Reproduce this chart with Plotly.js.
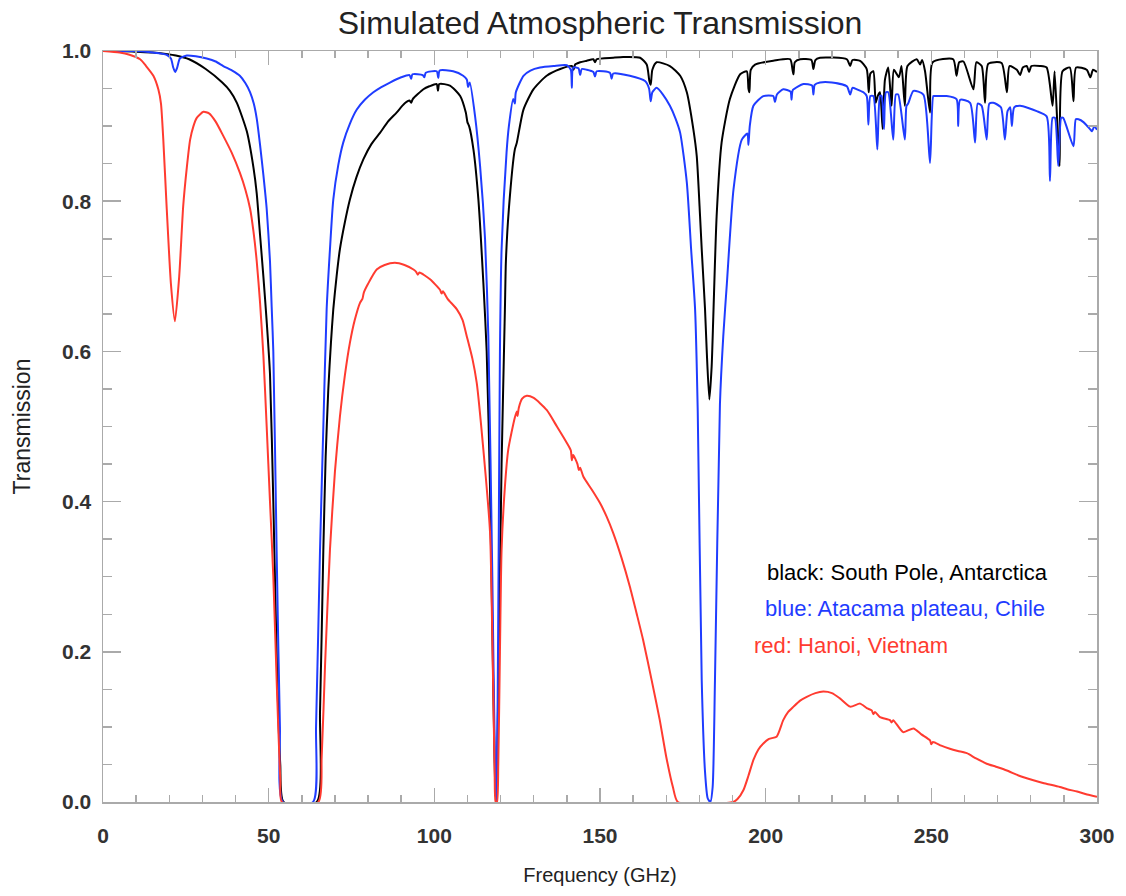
<!DOCTYPE html>
<html>
<head>
<meta charset="utf-8">
<script src="https://cdn.plot.ly/plotly-3.0.1.min.js"></script>
<style>html,body{margin:0;padding:0;background:#fff;}#chart{width:1126px;height:896px;}</style>
</head>
<body>
<div id="chart"></div>
<script>
// South Pole, Antarctica (black)
const freqBlack = [0,5,10,15,19,22,26,31,36,38.3,40.4,43.4,45.4,46.4,47.4,48.4,49.4,50.4,51.4,52.5,53.5,54.5,64.5,65.5,66.5,67.2,68,68.8,69.5,70.5,71.5,73,74.5,76.5,78.6,81,83.6,86,88.6,91,92.5,93,93.5,96.7,98.5,100.7,101.1,101.5,104.7,107.8,109.5,110,110.5,111.8,113.3,114.8,115.8,116.8,117.8,118.4,118.75,119.3,120.3,121.3,121.6,122.5,124.3,124.9,126.9,129.9,133.9,138,141.5,142,142.5,144,146,148,148.5,149,154,157,162.1,164.1,164.9,165.3,165.8,167.1,171.1,174.2,176.2,178.2,179.2,180.2,180.7,181.7,182.2,183,183.7,184.2,185.2,186.7,189.2,192.3,194.3,194.8,195.1,195.5,196.8,202.3,207.4,208.1,208.4,208.8,210.4,213.8,214.4,215,216.4,224.5,225.5,226.2,228.5,230.5,231.1,231.6,232.5,233.2,233.8,234.5,235.3,236,237,238,238.7,240.2,241,242,242.8,245.6,246.6,247.2,248.1,249.6,250.4,256.6,257.6,258.4,259.7,262.7,263.6,265.2,266.2,267.2,271.2,272.8,273.6,275.8,276.8,277.6,278.8,279.5,280.2,282.8,284.8,286.6,287.2,288.7,289.6,291.8,292.9,293.7,296.9,298,298.8,300];
const transBlack = [1.0,1.0,0.999,0.998,0.996,0.994,0.989,0.976,0.958,0.947,0.931,0.893,0.845,0.81,0.755,0.7,0.64,0.57,0.4,0.18,0.05,0.0,0.0,0.12,0.336,0.46,0.55,0.612,0.656,0.70,0.736,0.772,0.802,0.832,0.856,0.876,0.891,0.906,0.918,0.93,0.934,0.931,0.936,0.949,0.953,0.956,0.947,0.956,0.954,0.94,0.918,0.905,0.9,0.869,0.802,0.691,0.6,0.42,0.15,0.02,0.0,0.15,0.45,0.656,0.72,0.79,0.869,0.878,0.922,0.949,0.967,0.976,0.98,0.975,0.982,0.985,0.987,0.989,0.985,0.989,0.991,0.992,0.991,0.982,0.96,0.955,0.975,0.985,0.98,0.967,0.945,0.895,0.86,0.78,0.736,0.656,0.602,0.536,0.58,0.647,0.78,0.878,0.936,0.969,0.973,0.95,0.945,0.975,0.982,0.987,0.989,0.975,0.969,0.985,0.989,0.988,0.976,0.988,0.991,0.989,0.98,0.988,0.987,0.976,0.945,0.97,0.973,0.931,0.94,0.945,0.896,0.962,0.978,0.927,0.975,0.965,0.98,0.927,0.98,0.989,0.982,0.988,0.973,0.918,0.985,0.989,0.967,0.985,0.986,0.949,0.985,0.98,0.931,0.983,0.984,0.945,0.98,0.975,0.968,0.978,0.98,0.972,0.98,0.98,0.978,0.927,0.973,0.847,0.973,0.978,0.933,0.978,0.975,0.965,0.975,0.972];

// Atacama plateau, Chile (blue)
const freqBlue = [0,5,10,15,19.2,20.5,21.2,21.8,22.4,23.2,25.3,28,31.3,34,36.3,39,41.3,43,44.4,45.5,46.4,47.4,48.4,49.4,50.4,50.9,51.4,52.4,53.4,54.3,63.4,64.3,65.5,66.5,67.5,68.5,69.5,71,72.5,74.5,76.6,79,81.6,84,86.6,90,92.5,93,93.4,96.5,97,97.4,100.7,101.2,101.6,105.7,108.7,109.8,110.2,110.7,112.3,113.8,115.3,116.3,117.5,118.3,118.75,119.3,119.8,120.3,121.8,122.5,123.8,124.3,124.6,126.9,129,131.9,136,140,141.2,141.5,141.9,143.5,144,144.5,146,148,148.5,149,153,153.5,154,159,163.6,164.8,165.3,165.8,167.1,169,171.1,172.8,174.2,176.2,177.5,178.7,179.5,180.7,181.7,182.5,183.3,184,184.7,186.2,187.2,188.3,190.3,192.8,194.5,194.8,195.2,196.3,199.3,202.3,202.8,203.4,205.3,207.5,207.8,208.2,211.4,214,214.4,214.8,216.4,220,224.5,225.5,226.2,227.5,229.5,230.5,231,231.6,232.5,233.7,234.5,235,235.7,236.3,237,238.5,239.3,240,242,242.5,243,244.6,247.6,249.6,250.6,251.1,254.6,257.6,258.1,258.7,261.7,263.2,264,265.2,266.7,267.5,268.7,271,272.2,273,273.8,274.3,275,276.8,281.8,284.8,285.8,286.6,287.3,288.3,289.2,289.8,292.9,293.6,294.4,296,297.9,298.5,299.2,300];
const transBlue = [1.0,1.0,1.0,0.998,0.995,0.99,0.978,0.972,0.978,0.99,0.994,0.993,0.99,0.986,0.98,0.974,0.967,0.957,0.945,0.93,0.91,0.875,0.835,0.79,0.72,0.66,0.6,0.336,0.1,0.0,0.0,0.1,0.336,0.5,0.656,0.736,0.802,0.848,0.878,0.903,0.922,0.935,0.945,0.952,0.958,0.965,0.968,0.963,0.969,0.968,0.965,0.971,0.973,0.964,0.974,0.973,0.967,0.962,0.952,0.958,0.913,0.847,0.75,0.62,0.3,0.05,0.0,0.25,0.6,0.736,0.865,0.9,0.936,0.93,0.945,0.967,0.974,0.978,0.98,0.981,0.975,0.951,0.978,0.977,0.968,0.976,0.975,0.972,0.966,0.973,0.971,0.963,0.97,0.967,0.96,0.95,0.933,0.945,0.951,0.942,0.927,0.91,0.891,0.825,0.736,0.656,0.52,0.162,0.04,0.005,0.0,0.02,0.162,0.53,0.62,0.691,0.816,0.882,0.89,0.875,0.9,0.927,0.94,0.94,0.932,0.942,0.949,0.946,0.935,0.948,0.956,0.954,0.942,0.955,0.958,0.958,0.953,0.942,0.951,0.949,0.945,0.94,0.902,0.94,0.94,0.869,0.94,0.94,0.896,0.945,0.945,0.882,0.942,0.942,0.882,0.927,0.93,0.947,0.942,0.851,0.94,0.94,0.94,0.936,0.9,0.935,0.931,0.878,0.93,0.927,0.882,0.93,0.931,0.925,0.882,0.92,0.925,0.9,0.925,0.927,0.92,0.913,0.827,0.911,0.911,0.847,0.911,0.911,0.873,0.909,0.909,0.905,0.896,0.893,0.9,0.895];

// Hanoi, Vietnam (red)
const freqRed = [0,5,8,11.2,13,15.2,16.7,17.5,18.2,19.2,20.5,21.7,23,24.2,25.3,26.3,27.3,28.3,30.3,32,34,36.3,38.8,41.3,43,44.4,45.4,46.4,47.4,48.4,49.4,50.4,51.4,52.5,53.5,54,65,66,67,68.5,70,71.5,73,74.5,76,77.6,78.3,78.7,80,82.6,85,88.1,91,93.7,94.5,95,95.5,98.7,101.7,102.2,102.6,104,106.8,108.5,109.8,111.5,112.8,114.8,116.8,117.5,118.2,118.5,118.9,119.3,119.8,120.3,121.3,122.3,124.3,124.9,125.1,125.5,126.5,127.9,130,133.9,137,140,141.2,141.5,141.9,143.2,143.6,144,145,147.5,150,152,154,156.5,159,161,163,165.6,168,170,172,173.5,190.2,191.5,193.3,194.8,196.3,197.8,199.3,201,203.3,205.3,206.8,208.4,210.4,212.4,215,217.4,220,222.4,225.5,228.5,230.5,232,232.5,233,234.5,237.5,238,238.5,241.5,244.6,247,249.6,250,250.5,253,255.6,258,260.7,263.5,266.7,269.5,272.8,276.5,280.8,284,286,288.8,291,294,297,300];
const transRed = [1.0,0.998,0.995,0.989,0.98,0.967,0.949,0.93,0.882,0.793,0.69,0.64,0.7,0.793,0.845,0.882,0.9,0.911,0.919,0.917,0.906,0.887,0.865,0.838,0.815,0.79,0.76,0.72,0.665,0.595,0.5,0.4,0.3,0.15,0.03,0.0,0.0,0.06,0.18,0.336,0.44,0.513,0.568,0.611,0.642,0.665,0.67,0.678,0.69,0.709,0.715,0.718,0.715,0.709,0.706,0.702,0.705,0.696,0.682,0.677,0.68,0.67,0.656,0.642,0.62,0.59,0.558,0.469,0.36,0.22,0.04,0.0,0.0,0.05,0.2,0.336,0.42,0.469,0.512,0.52,0.514,0.525,0.537,0.541,0.538,0.522,0.5,0.478,0.468,0.455,0.462,0.45,0.442,0.445,0.433,0.416,0.398,0.38,0.358,0.325,0.287,0.252,0.216,0.162,0.11,0.06,0.02,0.0,0.0,0.004,0.016,0.035,0.056,0.07,0.078,0.084,0.087,0.109,0.12,0.127,0.135,0.14,0.145,0.147,0.145,0.138,0.127,0.131,0.125,0.122,0.117,0.12,0.113,0.109,0.106,0.109,0.093,0.098,0.09,0.082,0.077,0.08,0.075,0.071,0.068,0.065,0.058,0.051,0.047,0.042,0.035,0.029,0.025,0.023,0.02,0.017,0.014,0.01,0.007];

const legendLabels = ["black: South Pole, Antarctica", "blue: Atacama plateau, Chile", "red: Hanoi, Vietnam"];
const xTickVals = [0,50,100,150,200,250,300];
const yTickVals = [0,0.2,0.4,0.6,0.8,1.0];

const cBlack = '#000000', cBlue = '#1f3cff', cRed = '#ff3b30';
const font = 'Liberation Sans, Arial, Helvetica, sans-serif';

const lineStyle = (c) => ({color: c, width: 2, shape: 'spline', smoothing: 0.6});
const traces = [
  {x: freqBlack, y: transBlack, mode: 'lines', line: lineStyle(cBlack), name: legendLabels[0]},
  {x: freqBlue, y: transBlue, mode: 'lines', line: lineStyle(cBlue), name: legendLabels[1]},
  {x: freqRed, y: transRed, mode: 'lines', line: lineStyle(cRed), name: legendLabels[2]}
];

const axisCommon = {
  showline: true, mirror: 'ticks', linecolor: '#aaaaaa', linewidth: 1.5,
  ticks: 'inside', tickcolor: '#aaaaaa', tickwidth: 1.5,
  showgrid: false, zeroline: false,
  tickfont: {family: font, size: 21, color: '#333', weight: 'bold'}
};

const layout = {
  width: 1126, height: 896,
  margin: {l: 103, r: 29, t: 51, b: 94},
  paper_bgcolor: '#fff', plot_bgcolor: '#fff',
  showlegend: false,
  title: {text: 'Simulated Atmospheric Transmission', font: {family: font, size: 32, color: '#222'},
          x: 0.5, xref: 'paper', y: 0.975, yref: 'container', yanchor: 'middle'},
  xaxis: Object.assign({}, axisCommon, {
    range: [0, 300], tickvals: xTickVals, ticktext: xTickVals.map(String), ticklen: 14,
    minor: {dtick: 10, ticks: 'inside', ticklen: 7, tickcolor: '#aaaaaa', tickwidth: 1.5, showgrid: false},
    ticklabelstandoff: 14,
    title: {text: 'Frequency (GHz)', font: {family: font, size: 20, color: '#222'}, standoff: 22}
  }),
  yaxis: Object.assign({}, axisCommon, {
    range: [0, 1.0], tickvals: yTickVals, ticktext: yTickVals.map(v => v.toFixed(1)), ticklen: 18,
    minor: {dtick: 0.05, ticks: 'inside', ticklen: 9, tickcolor: '#aaaaaa', tickwidth: 1.5, showgrid: false},
    ticklabelstandoff: 6,
    title: {text: 'Transmission', font: {family: font, size: 23, color: '#222'}, standoff: 25}
  }),
  annotations: [
    {x: 199.8, y: 0.306, xref: 'x', yref: 'y', text: legendLabels[0], showarrow: false, xanchor: 'left', yanchor: 'middle', font: {family: font, size: 22, color: cBlack}},
    {x: 199.3, y: 0.258, xref: 'x', yref: 'y', text: legendLabels[1], showarrow: false, xanchor: 'left', yanchor: 'middle', font: {family: font, size: 22, color: cBlue}},
    {x: 195.9, y: 0.208, xref: 'x', yref: 'y', text: legendLabels[2], showarrow: false, xanchor: 'left', yanchor: 'middle', font: {family: font, size: 22, color: cRed}}
  ]
};

Plotly.newPlot('chart', traces, layout, {displayModeBar: false, staticPlot: true});
</script>
</body>
</html>
